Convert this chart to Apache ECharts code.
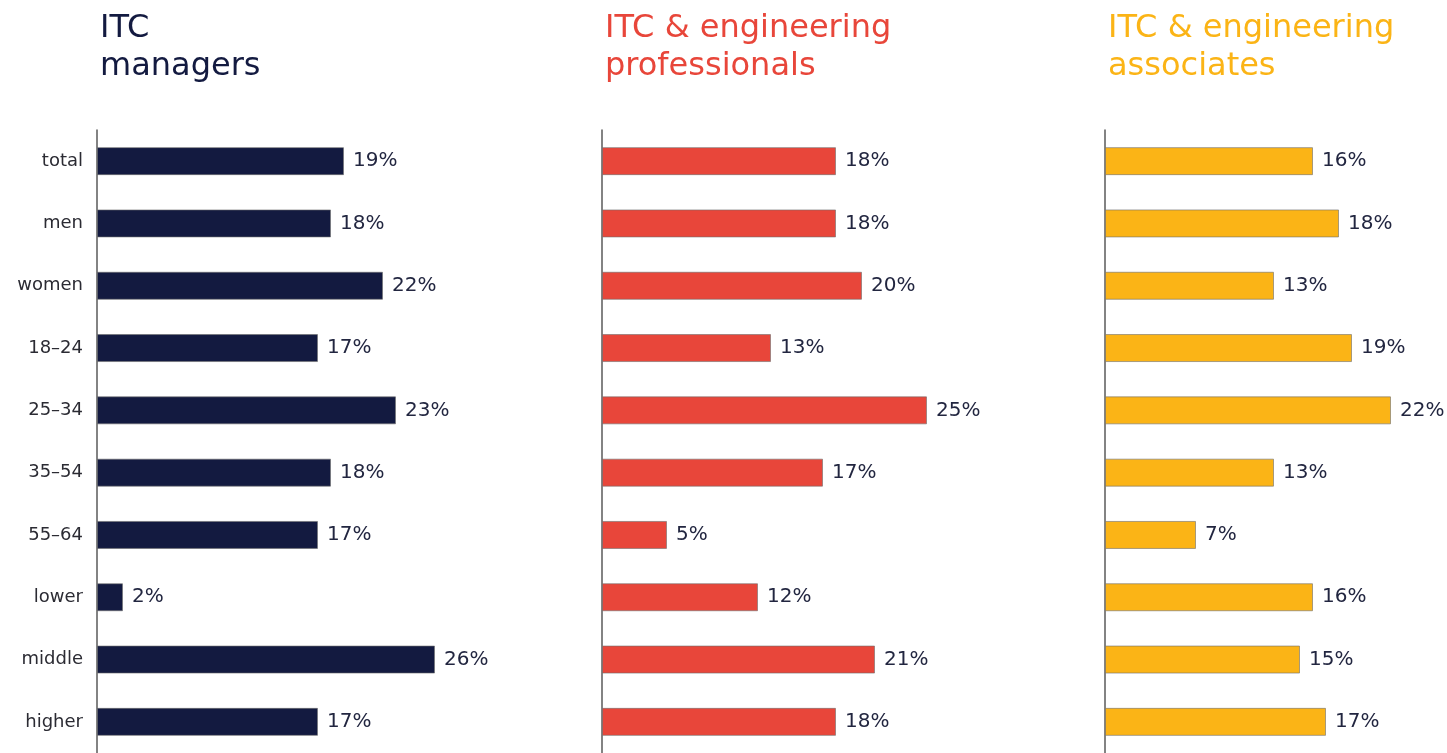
<!DOCTYPE html>
<html>
<head>
<meta charset="utf-8">
<script src="https://cdn.jsdelivr.net/npm/echarts@6/dist/echarts.min.js"></script>
<style>
  html, body { margin: 0; padding: 0; background: #fff; }
  #chart { width: 1447px; height: 753px; }
</style>
</head>
<body>
<div id="chart"></div>
<script>
const categories = ["total", "men", "women", "18–24", "25–34", "35–54", "55–64", "lower", "middle", "higher"];
const managers = [19, 18, 22, 17, 23, 18, 17, 2, 26, 17];
const professionals = [18, 18, 20, 13, 25, 17, 5, 12, 21, 18];
const associates = [16, 18, 13, 19, 22, 13, 7, 16, 15, 17];

const titles = ["ITC\nmanagers", "ITC & engineering\nprofessionals", "ITC & engineering\nassociates"];
const colors = ["#131a40", "#e8463a", "#fbb416"];
const axisLefts = [97, 602, 1105];
const pxPerPct = 13.0;
const xMax = 26;

const font = "DejaVu Sans, Verdana, sans-serif";
const chart = echarts.init(document.getElementById("chart"));

const panels = [managers, professionals, associates];

chart.setOption({
  animation: false,
  title: titles.map((t, i) => ({
    text: t,
    left: axisLefts[i] - 2,
    top: 5,
    textStyle: { fontFamily: font, fontSize: 32, fontWeight: "normal", color: colors[i], lineHeight: 38 },
  })),
  grid: axisLefts.map((x) => ({
    left: x, top: 130, width: xMax * pxPerPct, height: 627,
  })),
  xAxis: panels.map((_, i) => ({
    type: "value", gridIndex: i, min: 0, max: xMax, show: false,
  })),
  yAxis: panels.map((_, i) => ({
    type: "category",
    gridIndex: i,
    data: categories,
    inverse: true,
    axisLine: { show: true, lineStyle: { color: "#5a5a5a", width: 1.5 } },
    axisTick: { show: false },
    axisLabel: {
      show: i === 0,
      margin: 14,
      fontFamily: font,
      fontSize: 18,
      color: "#2b2b33",
    },
  })),
  series: panels.map((data, i) => ({
    type: "bar",
    xAxisIndex: i,
    yAxisIndex: i,
    data: data,
    barWidth: 28,
    itemStyle: { color: colors[i], borderColor: "rgba(110,110,110,0.6)", borderWidth: 1 },
    label: {
      show: true,
      position: "right",
      distance: 9,
      formatter: "{c}%",
      fontFamily: font,
      fontSize: 20,
      color: "#222640",
    },
  })),
});
</script>
</body>
</html>
